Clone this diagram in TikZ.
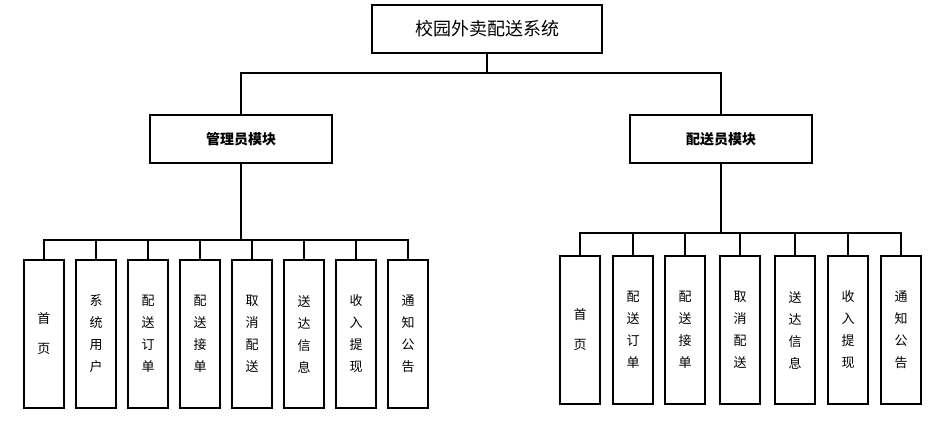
\documentclass[tikz,border=0pt]{standalone}
\usepackage{fontspec}
\setmainfont{Noto Sans CJK SC}
\tikzset{
  box/.style={draw, line width=1.2pt, minimum height=48pt, inner sep=0pt},
  leaf/.style={draw, line width=1.2pt, minimum width=40pt, minimum height=148pt, align=center, inner sep=0pt, font=\fontsize{13pt}{22pt}\selectfont},
  wire/.style={line width=1.2pt}
}
\begin{document}
\begin{tikzpicture}[x=1pt,y=-1pt]
\useasboundingbox (0,0) rectangle (943,423);
			\node[box, minimum width=230pt, font=\fontsize{18pt}{20pt}\selectfont] (T) at (487,29) {校园外卖配送系统};
			\node[box, minimum width=182pt, font=\bfseries\fontsize{14pt}{16pt}\selectfont] (L) at (241,139) {管理员模块};
			\node[box, minimum width=182pt, font=\bfseries\fontsize{14pt}{16pt}\selectfont] (R) at (721,139) {配送员模块};
				\coordinate (TB) at (487,73);
				\coordinate (LB) at (241,240);
				\coordinate (RB) at (721,233);
			\node[leaf] (L1) at (44,334) {首\\[8pt]页};
			\node[leaf] (L2) at (96,334) {系\\统\\用\\户};
			\node[leaf] (L3) at (148,334) {配\\送\\订\\单};
			\node[leaf] (L4) at (200,334) {配\\送\\接\\单};
			\node[leaf] (L5) at (252,334) {取\\消\\配\\送};
			\node[leaf] (L6) at (304,334) {送\\达\\信\\息};
			\node[leaf] (L7) at (356,334) {收\\入\\提\\现};
			\node[leaf] (L8) at (408,334) {通\\知\\公\\告};
			\node[leaf] (R1) at (580,330) {首\\[8pt]页};
			\node[leaf] (R2) at (633,330) {配\\送\\订\\单};
			\node[leaf] (R3) at (685,330) {配\\送\\接\\单};
			\node[leaf] (R4) at (740,330) {取\\消\\配\\送};
			\node[leaf] (R5) at (795,330) {送\\达\\信\\息};
			\node[leaf] (R6) at (848,330) {收\\入\\提\\现};
			\node[leaf] (R7) at (901,330) {通\\知\\公\\告};
			\draw[wire] (T) -- (TB);
			\draw[wire] (TB) -| (L);
			\draw[wire] (TB) -| (R);
			\draw[wire] (L) -- (LB);
				\draw[wire] (LB) -| (L1);
				\draw[wire] (LB) -| (L2);
				\draw[wire] (LB) -| (L3);
				\draw[wire] (LB) -| (L4);
				\draw[wire] (LB) -| (L5);
				\draw[wire] (LB) -| (L6);
				\draw[wire] (LB) -| (L7);
				\draw[wire] (LB) -| (L8);
			\draw[wire] (R) -- (RB);
				\draw[wire] (RB) -| (R1);
				\draw[wire] (RB) -| (R2);
				\draw[wire] (RB) -| (R3);
				\draw[wire] (RB) -| (R4);
				\draw[wire] (RB) -| (R5);
				\draw[wire] (RB) -| (R6);
				\draw[wire] (RB) -| (R7);
\end{tikzpicture}
\end{document}
